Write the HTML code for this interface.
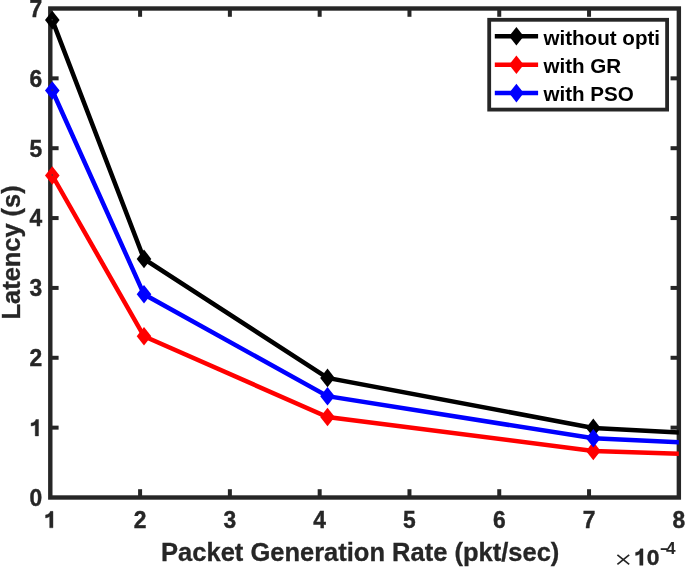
<!DOCTYPE html>
<html><head><meta charset="utf-8"><style>
html,body{margin:0;padding:0;background:#fff;}
svg{display:block;}
#main{will-change:transform;}
text{font-family:"Liberation Sans",sans-serif;font-weight:bold;}
</style></head><body>
<svg id="main" width="685" height="567" viewBox="0 0 685 567">
<rect width="685" height="567" fill="#fff"/>
<g stroke="#262626" stroke-width="4.0" stroke-linecap="butt"><line x1="140.09" y1="497.50" x2="140.09" y2="489.20"/><line x1="140.09" y1="8.50" x2="140.09" y2="16.80"/><line x1="229.88" y1="497.50" x2="229.88" y2="489.20"/><line x1="229.88" y1="8.50" x2="229.88" y2="16.80"/><line x1="319.67" y1="497.50" x2="319.67" y2="489.20"/><line x1="319.67" y1="8.50" x2="319.67" y2="16.80"/><line x1="409.46" y1="497.50" x2="409.46" y2="489.20"/><line x1="409.46" y1="8.50" x2="409.46" y2="16.80"/><line x1="499.25" y1="497.50" x2="499.25" y2="489.20"/><line x1="499.25" y1="8.50" x2="499.25" y2="16.80"/><line x1="589.04" y1="497.50" x2="589.04" y2="489.20"/><line x1="589.04" y1="8.50" x2="589.04" y2="16.80"/><line x1="50.30" y1="427.64" x2="58.60" y2="427.64"/><line x1="678.85" y1="427.64" x2="670.55" y2="427.64"/><line x1="50.30" y1="357.78" x2="58.60" y2="357.78"/><line x1="678.85" y1="357.78" x2="670.55" y2="357.78"/><line x1="50.30" y1="287.92" x2="58.60" y2="287.92"/><line x1="678.85" y1="287.92" x2="670.55" y2="287.92"/><line x1="50.30" y1="218.06" x2="58.60" y2="218.06"/><line x1="678.85" y1="218.06" x2="670.55" y2="218.06"/><line x1="50.30" y1="148.20" x2="58.60" y2="148.20"/><line x1="678.85" y1="148.20" x2="670.55" y2="148.20"/><line x1="50.30" y1="78.34" x2="58.60" y2="78.34"/><line x1="678.85" y1="78.34" x2="670.55" y2="78.34"/><rect x="50.3" y="8.5" width="628.55" height="489.00" fill="none" stroke-width="4.4"/></g>
<g font-size="22.8" fill="#262626" stroke="#262626" stroke-width="0.4"><text transform="translate(42.20,505.80) scale(1,1.03)" text-anchor="end">0</text><path transform="translate(29.52,435.94) scale(22.8,-23.484)" d="M0.395 0L0.395 0.70L0.28 0.70C0.262 0.615 0.185 0.56 0.07 0.548L0.07 0.42C0.14 0.428 0.2 0.445 0.25 0.48L0.25 0Z" fill="#262626" stroke="#262626" stroke-width="0.4" vector-effect="non-scaling-stroke"/><text transform="translate(42.20,366.08) scale(1,1.03)" text-anchor="end">2</text><text transform="translate(42.20,296.22) scale(1,1.03)" text-anchor="end">3</text><text transform="translate(42.20,226.36) scale(1,1.03)" text-anchor="end">4</text><text transform="translate(42.20,156.50) scale(1,1.03)" text-anchor="end">5</text><text transform="translate(42.20,86.64) scale(1,1.03)" text-anchor="end">6</text><text transform="translate(42.20,16.78) scale(1,1.03)" text-anchor="end">7</text><path transform="translate(43.96,527.80) scale(22.8,-23.484)" d="M0.395 0L0.395 0.70L0.28 0.70C0.262 0.615 0.185 0.56 0.07 0.548L0.07 0.42C0.14 0.428 0.2 0.445 0.25 0.48L0.25 0Z" fill="#262626" stroke="#262626" stroke-width="0.4" vector-effect="non-scaling-stroke"/><text transform="translate(140.09,527.80) scale(1,1.03)" text-anchor="middle">2</text><text transform="translate(229.88,527.80) scale(1,1.03)" text-anchor="middle">3</text><text transform="translate(319.67,527.80) scale(1,1.03)" text-anchor="middle">4</text><text transform="translate(409.46,527.80) scale(1,1.03)" text-anchor="middle">5</text><text transform="translate(499.25,527.80) scale(1,1.03)" text-anchor="middle">6</text><text transform="translate(589.04,527.80) scale(1,1.03)" text-anchor="middle">7</text><text transform="translate(678.83,527.80) scale(1,1.03)" text-anchor="middle">8</text></g>
<text x="360.2" y="561.3" text-anchor="middle" font-size="25.5" fill="#262626" stroke="#262626" stroke-width="0.3">Packet Generation Rate (pkt/sec)</text>
<text transform="translate(19.5,252.4) rotate(-90) scale(1,1.05)" text-anchor="middle" font-size="25.4" fill="#262626" stroke="#262626" stroke-width="0.3">Latency (s)</text>
<path d="M617.4 554.8L629.2 564.4M629.2 554.8L617.4 564.4" stroke="#262626" stroke-width="1.7" fill="none"/>
<path transform="translate(634.00,565.30) scale(22.8,-23.484)" d="M0.395 0L0.395 0.70L0.28 0.70C0.262 0.615 0.185 0.56 0.07 0.548L0.07 0.42C0.14 0.428 0.2 0.445 0.25 0.48L0.25 0Z" fill="#262626" stroke="#262626" stroke-width="0.4" vector-effect="non-scaling-stroke"/><text x="646.68" y="565.3" font-size="22.8" fill="#262626" stroke="#262626" stroke-width="0.4">0</text>
<rect x="660.7" y="548.2" width="6.5" height="1.8" fill="#262626"/><text x="666.0" y="553.6" font-size="17.2" fill="#262626">4</text>
<svg x="50.3" y="0" width="628.55" height="567" viewBox="50.3 0 628.55 567" overflow="hidden">
<polyline points="52.30,20.10 144.00,258.90 327.50,377.90 593.30,427.90 679.00,432.60" fill="none" stroke="#000" stroke-width="4.5" stroke-linejoin="miter"/>
</svg><path d="M52.30 10.80L59.60 20.10L52.30 29.40L45.00 20.10Z" fill="#000"/><path d="M144.00 249.60L151.30 258.90L144.00 268.20L136.70 258.90Z" fill="#000"/><path d="M327.50 368.60L334.80 377.90L327.50 387.20L320.20 377.90Z" fill="#000"/><path d="M593.30 418.60L600.60 427.90L593.30 437.20L586.00 427.90Z" fill="#000"/><circle cx="52.20" cy="19.70" r="0.75" fill="#3a3a3a"/><svg x="50.3" y="0" width="628.55" height="567" viewBox="50.3 0 628.55 567" overflow="hidden"><polyline points="52.30,175.50 144.00,336.30 327.50,417.00 593.30,450.90 679.00,453.80" fill="none" stroke="#f00" stroke-width="4.5" stroke-linejoin="miter"/></svg><path d="M52.30 166.20L59.60 175.50L52.30 184.80L45.00 175.50Z" fill="#f00"/><path d="M144.00 327.00L151.30 336.30L144.00 345.60L136.70 336.30Z" fill="#f00"/><path d="M327.50 407.70L334.80 417.00L327.50 426.30L320.20 417.00Z" fill="#f00"/><path d="M593.30 441.60L600.60 450.90L593.30 460.20L586.00 450.90Z" fill="#f00"/><circle cx="52.20" cy="175.10" r="0.75" fill="#3a3a3a"/><svg x="50.3" y="0" width="628.55" height="567" viewBox="50.3 0 628.55 567" overflow="hidden"><polyline points="52.30,90.50 144.00,294.30 327.50,396.20 593.30,438.30 679.00,442.30" fill="none" stroke="#00f" stroke-width="4.5" stroke-linejoin="miter"/></svg><path d="M52.30 81.20L59.60 90.50L52.30 99.80L45.00 90.50Z" fill="#00f"/><path d="M144.00 285.00L151.30 294.30L144.00 303.60L136.70 294.30Z" fill="#00f"/><path d="M327.50 386.90L334.80 396.20L327.50 405.50L320.20 396.20Z" fill="#00f"/><path d="M593.30 429.00L600.60 438.30L593.30 447.60L586.00 438.30Z" fill="#00f"/><circle cx="52.20" cy="90.10" r="0.75" fill="#3a3a3a"/>
<rect x="489.2" y="19.8" width="177.90" height="89.80" fill="#fff" stroke="#262626" stroke-width="3.8"/><line x1="494.8" y1="36.3" x2="538.1" y2="36.3" stroke="#000" stroke-width="4.5"/><path d="M516.40 27.00L523.70 36.30L516.40 45.60L509.10 36.30Z" fill="#000"/><text x="543.4" y="44.60" font-size="20.6" fill="#000">without opti</text><line x1="494.8" y1="64.8" x2="538.1" y2="64.8" stroke="#f00" stroke-width="4.5"/><path d="M516.40 55.50L523.70 64.80L516.40 74.10L509.10 64.80Z" fill="#f00"/><text x="543.4" y="73.10" font-size="20.6" fill="#000">with GR</text><line x1="494.8" y1="93.1" x2="538.1" y2="93.1" stroke="#00f" stroke-width="4.5"/><path d="M516.40 83.80L523.70 93.10L516.40 102.40L509.10 93.10Z" fill="#00f"/><text x="543.4" y="101.40" font-size="20.6" fill="#000">with PSO</text>
</svg>
</body></html>
